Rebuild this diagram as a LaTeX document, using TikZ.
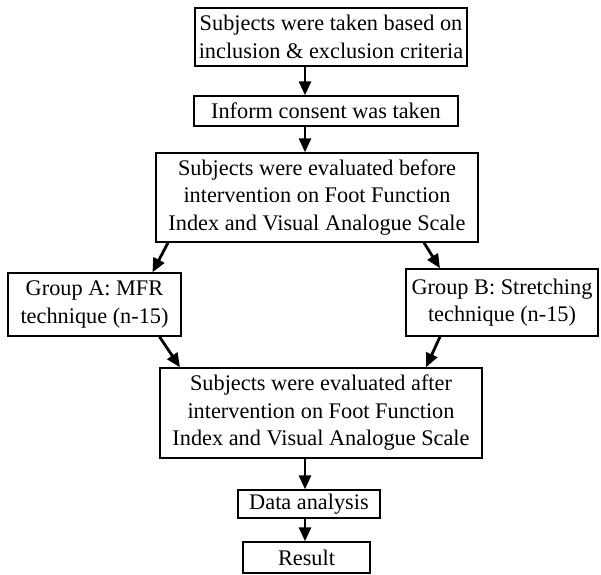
\documentclass[tikz,border=0pt]{standalone}
\usepackage{fontspec}
\setmainfont{Liberation Serif}
\usetikzlibrary{arrows.meta}
\begin{document}
\begin{tikzpicture}[x=1pt,y=-1pt,
  box/.style={draw=black,line width=1.4pt,align=center,inner sep=0pt,
    font=\fontsize{22.3}{27.5}\selectfont},
  arr/.style={line width=2.8pt,-{Triangle[length=14pt,width=12pt]}}]
\useasboundingbox (0,0) rectangle (601,574);
\node[box,minimum width=272pt,minimum height=58pt] (b1) at (331,37)
  {Subjects were taken based on\\inclusion \& exclusion criteria};
\node[box,minimum width=264pt,minimum height=30pt] (inf) at (326,111)
  {Inform consent was taken};
\node[box,minimum width=322pt,minimum height=89pt] (b3) at (317,197.5)
  {Subjects were evaluated before\\intervention on Foot Function\\Index and Visual Analogue Scale};
\node[box,minimum width=173pt,minimum height=63pt] (ga) at (94.5,304.5)
  {Group A: MFR\\technique (n-15)};
\node[box,minimum width=192pt,minimum height=67pt] (gb) at (502,302.5)
  {Group B: Stretching\\technique (n-15)};
\node[box,minimum width=322pt,minimum height=90pt] (b4) at (321,413)
  {Subjects were evaluated after\\intervention on Foot Function\\Index and Visual Analogue Scale};
\node[box,minimum width=142pt,minimum height=28pt] (da) at (309,504)
  {Data analysis};
\node[box,minimum width=127pt,minimum height=31pt] (res) at (306.5,557.5)
  {Result};
\draw[arr] ([xshift=-26pt]b1.south) -- ([xshift=-21pt]inf.north);
\draw[arr] ([xshift=-21pt]inf.south) -- ([xshift=-12pt]b3.north);
\draw[arr] ([xshift=-149pt]b3.south) -- ([xshift=58pt]ga.north);
\draw[arr] ([xshift=107pt]b3.south) -- ([xshift=-62pt]gb.north);
\draw[arr] ([xshift=65pt]ga.south) -- ([xshift=-141pt]b4.north);
\draw[arr] ([xshift=-62pt]gb.south) -- ([xshift=105pt]b4.north);
\draw[arr] ([xshift=-16pt]b4.south) -- ([xshift=-4pt]da.north);
\draw[arr] ([xshift=-4pt]da.south) -- ([xshift=-1.5pt]res.north);
\end{tikzpicture}
\end{document}
